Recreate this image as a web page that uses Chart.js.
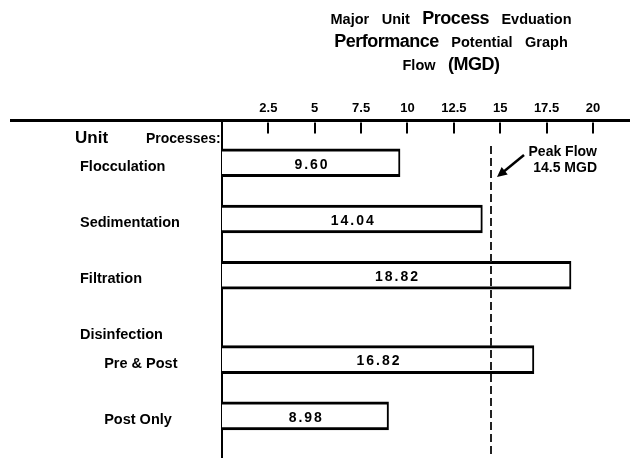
<!DOCTYPE html>
<html>
<head>
<meta charset="utf-8">
<script src="https://cdn.jsdelivr.net/npm/chart.js@4"></script>
<style>
  html, body { margin: 0; padding: 0; background: #fff; }
  #wrap { width: 630px; height: 458px; position: relative; }
</style>
</head>
<body>
<div id="wrap"><canvas id="c"></canvas></div>
<script>
// ---- data ----
const categories = ['', 'Flocculation', '', 'Sedimentation', '', 'Filtration', '', 'Disinfection', '      Pre & Post', '', '      Post Only', ''];
const capacities = [null, 9.60, null, 14.04, null, 18.82, null, null, 16.82, null, 8.98, null];
const xTickValues = [2.5, 5, 7.5, 10, 12.5, 15, 17.5, 20];
const PEAK_FLOW = 14.5;
const titleLines = [
  [['Major', 's'], ['Unit', 's'], ['Process', 'b'], ['Evduation', 's']],
  [['Performance', 'b'], ['Potential', 's'], ['Graph', 's']],
  [['Flow', 's'], ['(MGD)', 'b']]
];
const headerWords = [['Unit', 'bold 17px "Liberation Sans"'], ['Processes:', 'bold 14px "Liberation Sans"']];
const peakLabel = ['Peak Flow', PEAK_FLOW + ' MGD'];

const FONT_S = 'bold 14.5px "Liberation Sans"';
const FONT_B = 'bold 18px "Liberation Sans"';

const decorPlugin = {
  id: 'decor',
  beforeDraw(chart) {
    const ctx = chart.ctx;
    ctx.save();
    ctx.fillStyle = '#fff';
    ctx.fillRect(0, 0, chart.width, chart.height);
    ctx.restore();
  },
  afterDraw(chart) {
    const ctx = chart.ctx;
    const xs = chart.scales.x;
    const area = chart.chartArea;
    ctx.save();
    ctx.fillStyle = '#000';
    ctx.strokeStyle = '#000';

    // Title
    const baselines = [24, 47, 70];
    const gap = 12.5;
    titleLines.forEach((words, li) => {
      let widths = words.map(([w, f]) => {
        ctx.font = f === 'b' ? FONT_B : FONT_S;
        ctx.letterSpacing = f === 'b' ? '-0.5px' : '0px';
        return ctx.measureText(w).width;
      });
      const total = widths.reduce((a, b) => a + b, 0) + gap * (words.length - 1);
      let x = 451 - total / 2;
      ctx.textAlign = 'left';
      ctx.textBaseline = 'alphabetic';
      words.forEach(([w, f], i) => {
        ctx.font = f === 'b' ? FONT_B : FONT_S;
        ctx.letterSpacing = f === 'b' ? '-0.5px' : '0px';
        ctx.fillText(w, x, baselines[li]);
        x += widths[i] + gap;
      });
    });
    ctx.letterSpacing = '0px';

    // Horizontal axis line extended to the left
    const axisY = xs.bottom;
    ctx.lineWidth = 3;
    ctx.beginPath();
    ctx.moveTo(10, axisY);
    ctx.lineTo(chart.width, axisY);
    ctx.stroke();

    // Tick marks below axis line
    ctx.lineWidth = 2;
    xs.ticks.forEach(t => {
      const px = Math.round(xs.getPixelForValue(t.value));
      ctx.beginPath();
      ctx.moveTo(px, axisY + 2);
      ctx.lineTo(px, axisY + 13);
      ctx.stroke();
    });

    // Header "Unit Processes:"
    ctx.textAlign = 'left';
    ctx.textBaseline = 'alphabetic';
    ctx.font = headerWords[0][1];
    ctx.fillText(headerWords[0][0], 75, 143);
    ctx.font = headerWords[1][1];
    ctx.fillText(headerWords[1][0], 146, 143);

    // Bar value labels
    const meta = chart.getDatasetMeta(0);
    ctx.font = 'bold 14px "Liberation Sans"';
    ctx.letterSpacing = '2px';
    ctx.textAlign = 'center';
    ctx.textBaseline = 'middle';
    meta.data.forEach((bar, i) => {
      const v = capacities[i];
      if (v === null || v === undefined) return;
      const cx = (bar.base + bar.x) / 2;
      ctx.fillText(v.toFixed(2), cx + 1, bar.y + 2);
    });
    ctx.letterSpacing = '0px';

    // Peak flow dashed line
    const px = Math.round(xs.getPixelForValue(PEAK_FLOW));
    ctx.strokeStyle = '#222';
    ctx.lineWidth = 2;
    ctx.setLineDash([8, 4]);
    ctx.beginPath();
    ctx.moveTo(px, 146);
    ctx.lineTo(px, chart.height);
    ctx.stroke();
    ctx.setLineDash([]);

    // Arrow
    ctx.strokeStyle = '#000';
    ctx.lineWidth = 2.5;
    const tipX = px + 6, tipY = 177;
    const sx = tipX + 27, sy = tipY - 22;
    ctx.beginPath();
    ctx.moveTo(sx, sy);
    ctx.lineTo(tipX + 5, tipY - 4);
    ctx.stroke();
    const ang = Math.atan2(tipY - sy, tipX - sx);
    const hl = 11, hw = 0.45;
    ctx.beginPath();
    ctx.moveTo(tipX, tipY);
    ctx.lineTo(tipX - hl * Math.cos(ang - hw), tipY - hl * Math.sin(ang - hw));
    ctx.lineTo(tipX - hl * Math.cos(ang + hw), tipY - hl * Math.sin(ang + hw));
    ctx.closePath();
    ctx.fill();

    // Peak flow text
    ctx.font = 'bold 14px "Liberation Sans"';
    ctx.textAlign = 'right';
    ctx.textBaseline = 'alphabetic';
    ctx.fillText(peakLabel[0], 597, 156);
    ctx.fillText(peakLabel[1], 597, 172);

    ctx.restore();
  }
};

new Chart(document.getElementById('c'), {
  type: 'bar',
  data: {
    labels: categories,
    datasets: [{
      data: capacities,
      backgroundColor: '#fff',
      borderColor: '#000',
      borderWidth: { top: 3, bottom: 3, right: 2, left: 0 },
      borderSkipped: 'left',
      barThickness: 28
    }]
  },
  options: {
    indexAxis: 'y',
    responsive: true,
    maintainAspectRatio: false,
    animation: false,
    layout: { padding: { left: 80, top: 97, right: 0, bottom: -4 } },
    plugins: {
      legend: { display: false },
      tooltip: { enabled: false },
      title: { display: false }
    },
    scales: {
      x: {
        type: 'linear',
        position: 'top',
        min: 0,
        max: 22,
        afterBuildTicks(scale) {
          scale.ticks = xTickValues.map(v => ({ value: v }));
        },
        afterFit(scale) { scale.paddingLeft = 0; scale.paddingRight = 0; },
        ticks: {
          color: '#000',
          font: { family: '"Liberation Sans"', size: 13, weight: 'bold' },
          padding: 4,
          maxRotation: 0,
          autoSkip: false,
          callback: v => String(v)
        },
        grid: { display: false, drawTicks: false },
        border: { display: false }
      },
      y: {
        type: 'category',
        afterFit(scale) {
          scale.width = 142;
          scale.paddingTop = 0;
          scale.paddingBottom = 0;
        },
        ticks: {
          color: '#000',
          font: { family: '"Liberation Sans"', size: 14.5, weight: 'bold' },
          crossAlign: 'far',
          autoSkip: false,
          labelOffset: 4
        },
        grid: { display: false, drawTicks: false },
        border: { display: true, color: '#000', width: 2 }
      }
    }
  },
  plugins: [decorPlugin]
});
</script>
</body>
</html>
